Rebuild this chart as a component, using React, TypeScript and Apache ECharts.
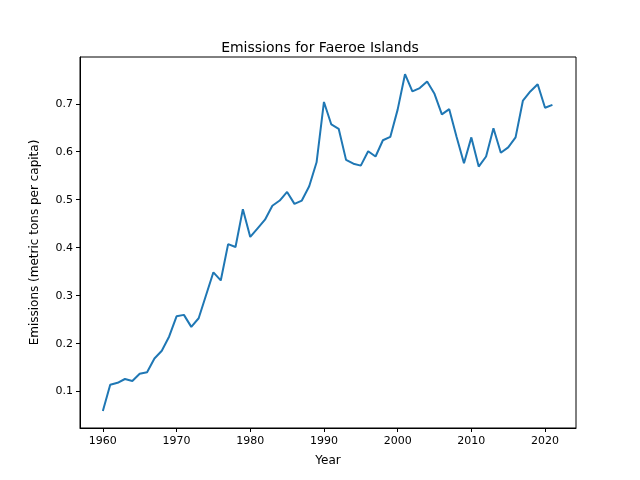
import { useRef, useEffect } from 'react'
import * as echarts from 'echarts'

const years = Array.from({ length: 62 }, (_, i) => 1960 + i);
const emissions = [
  0.058, 0.113, 0.117, 0.125, 0.121, 0.136, 0.139, 0.168, 0.184, 0.214,
  0.256, 0.259, 0.234, 0.252, 0.300, 0.348, 0.331, 0.407, 0.401, 0.480,
  0.422, 0.440, 0.458, 0.487, 0.498, 0.516, 0.491, 0.498, 0.528, 0.578,
  0.704, 0.657, 0.648, 0.583, 0.575, 0.571, 0.601, 0.590, 0.624, 0.631,
  0.688, 0.762, 0.726, 0.733, 0.747, 0.721, 0.678, 0.689, 0.631, 0.576,
  0.630, 0.569, 0.590, 0.649, 0.598, 0.609, 0.630, 0.707, 0.726, 0.741,
  0.692, 0.698,
];
const xTicks = [1960, 1970, 1980, 1990, 2000, 2010, 2020];
const yTicks = [0.1, 0.2, 0.3, 0.4, 0.5, 0.6, 0.7];

function App() {
  const chartRef = useRef<HTMLDivElement>(null);

  useEffect(() => {
    if (!chartRef.current) return;
    const myChart = echarts.init(chartRef.current, null, { renderer: 'svg' });
    const font = 'DejaVu Sans';
    myChart.setOption({
      animation: false,
      textStyle: { fontFamily: font },
      title: {
        text: 'Emissions for Faeroe Islands', left: 'center', top: 35,
        textStyle: { fontFamily: font, fontSize: 14, fontWeight: 'normal', color: '#000' },
      },
      grid: { left: 80, right: 64, top: 57, bottom: 52 },
      xAxis: {
        type: 'value', min: 1956.9, max: 2024.2,
        name: 'Year', nameLocation: 'middle', nameGap: 26,
        nameTextStyle: { fontFamily: font, fontSize: 12, color: '#000' },
        axisLine: { onZero: false, lineStyle: { color: '#000' } },
        axisTick: { customValues: xTicks, length: 4, lineStyle: { color: '#000' } },
        axisLabel: { customValues: xTicks, color: '#000', fontSize: 11, margin: 7, formatter: (v: number) => String(Math.round(v)) },
        splitLine: { show: false },
      },
      yAxis: {
        type: 'value', min: 0.0226, max: 0.798,
        name: 'Emissions (metric tons per capita)', nameLocation: 'middle', nameGap: 40,
        nameTextStyle: { fontFamily: font, fontSize: 12, color: '#000' },
        axisLine: { show: true, onZero: false, lineStyle: { color: '#000' } },
        axisTick: { show: true, customValues: yTicks, length: 4, lineStyle: { color: '#000' } },
        axisLabel: { customValues: yTicks, color: '#000', fontSize: 11, margin: 7, formatter: (v: number) => v.toFixed(1) },
        splitLine: { show: false },
      },
      graphic: [{
        type: 'rect', shape: { x: 80, y: 57, width: 496, height: 371 },
        style: { fill: 'none', stroke: '#000', lineWidth: 1 }, silent: true, z: 100,
      }],
      series: [{
        type: 'line', showSymbol: false,
        data: years.map((y, i) => [y, emissions[i]]),
        lineStyle: { color: '#1f77b4', width: 2 },
      }],
    });
    return () => myChart.dispose();
  }, []);

  return <div ref={chartRef} style={{ position: 'fixed', left: 0, top: 0, width: '640px', height: '480px' }}></div>
}

export default App
